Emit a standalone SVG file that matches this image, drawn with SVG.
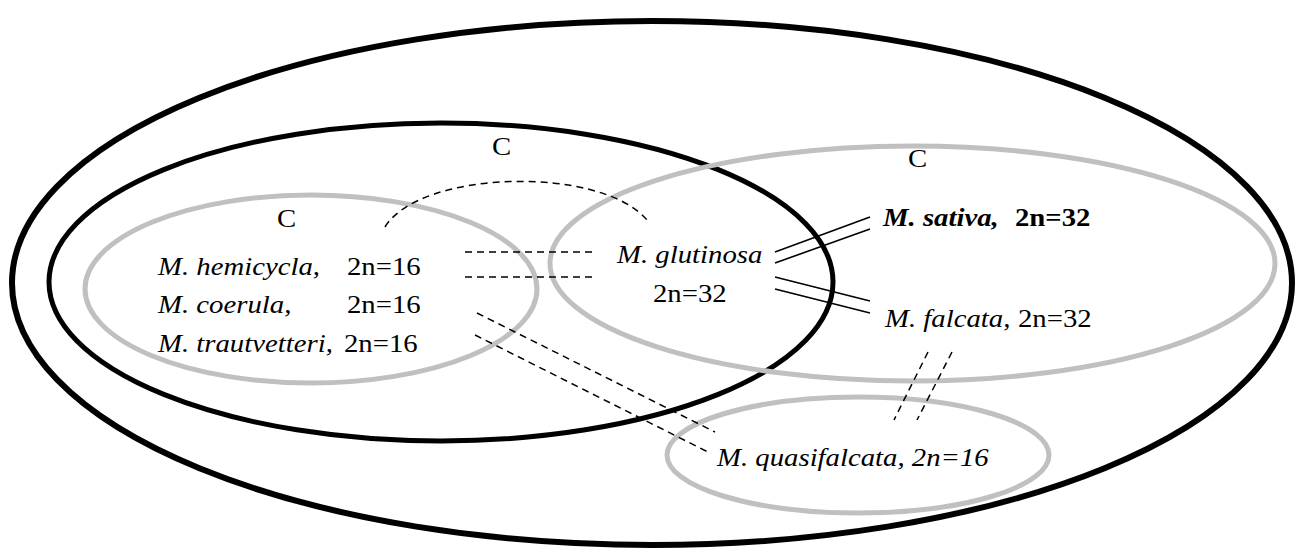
<svg xmlns="http://www.w3.org/2000/svg" width="1297" height="549" viewBox="0 0 1297 549">
<style>
.blk{fill:none;stroke:#000}
.gry{fill:none;stroke:#c0c0c0;stroke-width:5}
.dash{fill:none;stroke:#000;stroke-width:1.5;stroke-dasharray:7 5}
.sol{fill:none;stroke:#000;stroke-width:1.6}
text{font-family:"Liberation Serif","Times New Roman",serif;font-size:25px;fill:#000}
.it{font-style:italic}
.b{font-weight:bold}
</style>
<rect width="1297" height="549" fill="#fff"/>
<g id="outer"><ellipse class="blk" cx="652" cy="283" rx="640" ry="262" stroke-width="6"/></g>
<g id="inner-black">
<ellipse class="blk" cx="441" cy="282" rx="392" ry="159" stroke-width="5"/>
<text transform="translate(492,155) scale(1.15,1)">C</text>
</g>
<g id="group-left">
<ellipse class="gry" cx="311" cy="289" rx="226" ry="94"/>
<text transform="translate(277,227) scale(1.15,1)">C</text>
<text class="it" transform="translate(158,275) scale(1.15,1)">M. hemicycla,</text>
<text transform="translate(347,275) scale(1.15,1)">2n=16</text>
<text class="it" transform="translate(158,313) scale(1.15,1)">M. coerula,</text>
<text transform="translate(347,313) scale(1.15,1)">2n=16</text>
<text class="it" transform="translate(158,352) scale(1.15,1)">M. trautvetteri,</text>
<text transform="translate(344,352) scale(1.15,1)">2n=16</text>
</g>
<g id="group-right">
<ellipse class="gry" cx="912.5" cy="263.5" rx="362.5" ry="117.5"/>
<text transform="translate(908,167) scale(1.15,1)">C</text>
</g>
<g id="glutinosa">
<text class="it" transform="translate(617,263) scale(1.15,1)">M. glutinosa</text>
<text transform="translate(653,302) scale(1.15,1)">2n=32</text>
</g>
<g id="sativa">
<text class="it b" transform="translate(883,226) scale(1.15,1)">M. sativa,</text>
<text class="b" transform="translate(1015,226) scale(1.15,1)">2n=32</text>
</g>
<g id="falcata">
<text class="it" transform="translate(885,327) scale(1.15,1)">M. falcata,</text>
<text transform="translate(1018,327) scale(1.15,1)">2n=32</text>
</g>
<g id="quasifalcata">
<ellipse class="gry" cx="858" cy="455" rx="191" ry="58"/>
<text class="it" transform="translate(717,466) scale(1.15,1)">M. quasifalcata, 2n=16</text>
</g>
<g id="connectors">
<path class="dash" d="M385,227 C420,170 600,165 647,220"/>
<line class="dash" x1="465" y1="252" x2="597" y2="252"/>
<line class="dash" x1="465" y1="277" x2="597" y2="277"/>
<line class="dash" x1="477" y1="313" x2="715" y2="432"/>
<line class="dash" x1="475" y1="335" x2="708" y2="452"/>
<line class="dash" x1="928" y1="352" x2="894" y2="420"/>
<line class="dash" x1="952" y1="352" x2="917" y2="420"/>
<line class="sol" x1="775" y1="252" x2="870" y2="217"/>
<line class="sol" x1="775" y1="263" x2="870" y2="229"/>
<line class="sol" x1="775" y1="277" x2="870" y2="301"/>
<line class="sol" x1="775" y1="289" x2="870" y2="313"/>
</g>
</svg>
